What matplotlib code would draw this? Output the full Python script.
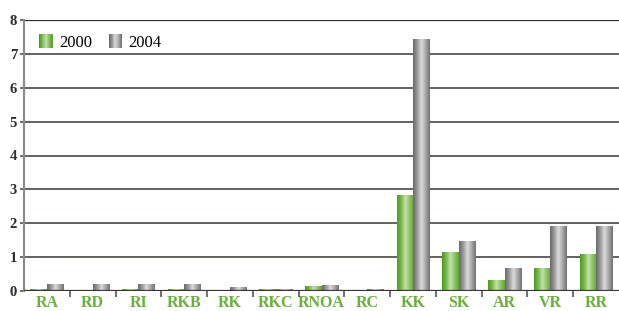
import numpy as np
import matplotlib.pyplot as plt
from matplotlib.colors import LinearSegmentedColormap
from matplotlib.patches import Rectangle
from matplotlib.legend_handler import HandlerBase

categories = ['RA', 'RD', 'RI', 'RKB', 'RK', 'RKC', 'RNOA', 'RC', 'KK', 'SK', 'AR', 'VR', 'RR']
values_2000 = [0.05, 0.0, 0.03, 0.05, 0.0, 0.03, 0.12, 0.0, 2.83, 1.13, 0.32, 0.65, 1.09]
values_2004 = [0.20, 0.20, 0.18, 0.20, 0.09, 0.03, 0.15, 0.03, 7.43, 1.47, 0.65, 1.89, 1.89]
series_labels = ['2000', '2004']

green_cmap = LinearSegmentedColormap.from_list(
    'g', ['#4f9a22', '#79b84e', '#c4e2ae', '#8cc466', '#5ea82f'])
gray_cmap = LinearSegmentedColormap.from_list(
    'k', ['#6a6a6a', '#9a9a9a', '#dcdcdc', '#a8a8a8', '#727272'])

plt.rcParams['font.family'] = ['Liberation Serif', 'DejaVu Serif']

fig = plt.figure(figsize=(6.19, 3.11), dpi=100)
ax = fig.add_axes([24 / 619, 20 / 311, 1 - 24 / 619, 271 / 311])

x = np.arange(len(categories))
w = 0.36
grad = np.linspace(0, 1, 64).reshape(1, -1)

def gradient_bars(bars, cmap):
    for b in bars:
        h = b.get_height()
        if h <= 0:
            continue
        b.set_alpha(0)
        ax.imshow(grad, cmap=cmap, aspect='auto', zorder=3,
                  extent=[b.get_x(), b.get_x() + b.get_width(), 0, h])

b1 = ax.bar(x - w / 2, values_2000, w, color='#6ab03a', label=series_labels[0], zorder=3)
b2 = ax.bar(x + w / 2, values_2004, w, color='#9a9a9a', label=series_labels[1], zorder=3)
gradient_bars(b1, green_cmap)
gradient_bars(b2, gray_cmap)

ax.set_xlim(-0.5, len(categories) - 0.5)
ax.set_ylim(0, 8)

# gridlines
for yv in range(1, 8):
    ax.axhline(yv, color='#5a5550', lw=1.3, zorder=1)
ax.axhline(8, color='#2e2a25', lw=1.6, zorder=1)
ax.axhline(0, color='#3a3530', lw=1.6, zorder=4)

for s in ['top', 'right', 'bottom']:
    ax.spines[s].set_visible(False)
ax.spines['left'].set_color('#8a8a8a')
ax.spines['left'].set_linewidth(1.5)

ax.set_yticks(range(0, 9))
ax.set_yticklabels([str(v) for v in range(0, 9)], fontsize=10.5,
                   fontweight='bold', color='#2e2a25')
ax.tick_params(axis='y', length=3, width=1.2, color='#5a5550', pad=2)

ax.set_xticks(x)
ax.set_xticklabels(categories, fontsize=11.5, fontweight='bold', color='#6ab03a')
ax.tick_params(axis='x', length=0, pad=3)
ax.set_xticks(np.arange(0.5, len(categories) - 0.5), minor=True)
ax.tick_params(axis='x', which='minor', length=4, width=1.2, color='#5a5550')


class GradHandler(HandlerBase):
    def __init__(self, cmap):
        super().__init__()
        self.cmap = cmap

    def create_artists(self, legend, orig, xd, yd, width, height, fontsize, trans):
        arts = []
        n = 12
        side = 0.85 * fontsize
        y0 = -yd + (height - side) / 2
        for i in range(n):
            r = Rectangle((-xd + width * i / n, y0), width / n + 0.3, side,
                          color=self.cmap(i / (n - 1)), transform=trans, lw=0)
            arts.append(r)
        return arts


leg = ax.legend([b1, b2], series_labels, loc='upper left', bbox_to_anchor=(0.0, 1.0),
                ncol=2, frameon=False, fontsize=12, handlelength=0.8, handleheight=0.8,
                handletextpad=0.4, columnspacing=1.0,
                handler_map={b1: GradHandler(green_cmap), b2: GradHandler(gray_cmap)})

fig.savefig('out.png', dpi=100)
